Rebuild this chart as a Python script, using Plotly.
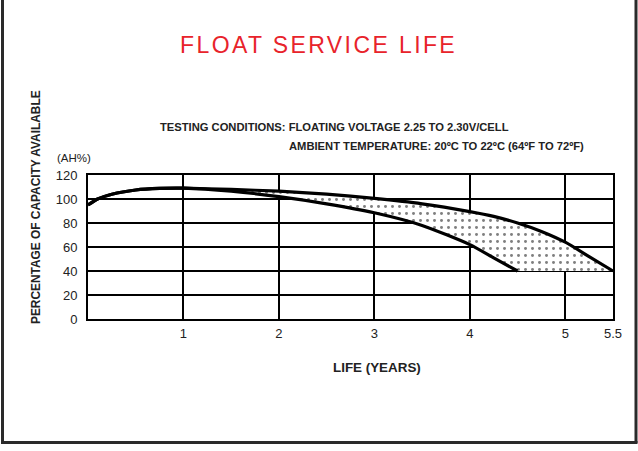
import plotly.graph_objects as go

# ---- data ----
years_upper = [0, 0.1, 0.25, 0.5, 0.75, 1.0, 1.5, 2.0, 2.5, 3.0, 3.5, 4.0, 4.25, 4.5, 4.75, 5.0, 5.25, 5.5]
cap_upper   = [95, 100, 104, 107.5, 108.8, 109, 108, 106.5, 104, 100.5, 96, 89.5, 85.5, 80, 73, 64, 52, 40]
years_lower = [0, 0.1, 0.25, 0.5, 0.75, 1.0, 1.5, 2.0, 2.5, 3.0, 3.5, 4.0, 4.25, 4.5]
cap_lower   = [95, 100, 104, 107.5, 108.8, 109, 106.5, 102, 96, 88.5, 78, 62, 51, 40]
floor_years = [4.5, 5.5]
floor_cap   = [40, 40]

x_ticks = [1, 2, 3, 4, 5, 5.5]
x_ticktext = ["1", "2", "3", "4", "5", "5.5"]
y_ticks = [0, 20, 40, 60, 80, 100, 120]
y_ticktext = ["0", "20", "40", "60", "80", "100", "120"]

W, H = 638, 451
L, R, T, B = 88, 613, 175, 319

FONT = "Liberation Sans, Arial, sans-serif"

fig = go.Figure()

band_x = years_upper + list(reversed(years_lower + floor_years[1:]))
band_y = cap_upper + list(reversed(cap_lower + floor_cap[1:]))
fig.add_trace(go.Scatter(
    x=band_x, y=band_y, mode="lines", fill="toself",
    line=dict(width=0, color="rgba(0,0,0,0)"),
    fillcolor="white",
    fillpattern=dict(shape=".", fgcolor="black", bgcolor="white", size=7, solidity=0.14),
    hoverinfo="skip", showlegend=False,
))
fig.add_trace(go.Scatter(x=years_upper, y=cap_upper, mode="lines",
                         line=dict(color="black", width=3.2, shape="spline", smoothing=0.6),
                         showlegend=False))
fig.add_trace(go.Scatter(x=years_lower, y=cap_lower, mode="lines",
                         line=dict(color="black", width=3.2, shape="spline", smoothing=0.6),
                         showlegend=False))

fig.update_xaxes(
    range=[0, 5.5], tickvals=x_ticks, ticktext=x_ticktext,
    showgrid=True, gridcolor="black", gridwidth=2,
    showline=True, linecolor="black", linewidth=2, mirror=True,
    zeroline=False, ticks="", ticklabelstandoff=1,
    tickfont=dict(family=FONT, size=13, color="#222"),
)
fig.update_yaxes(
    range=[0, 120], tickvals=y_ticks, ticktext=y_ticktext,
    showgrid=True, gridcolor="black", gridwidth=2,
    showline=True, linecolor="black", linewidth=2, mirror=True,
    zeroline=False, ticks="", ticklabelstandoff=6,
    tickfont=dict(family=FONT, size=13, color="#222"),
)

def px(xp):
    return (xp - L) / (R - L)

def py(yp):
    return (B - yp) / (B - T)

ann = []
ann.append(dict(text="<span style='letter-spacing:2.4px'>FLOAT SERVICE LIFE</span>",
                x=px(318), y=py(45), xref="paper", yref="paper", showarrow=False,
                font=dict(family=FONT, size=23, color="#e8232b"),
                xanchor="center", yanchor="middle"))
ann.append(dict(text="<b>TESTING CONDITIONS: FLOATING VOLTAGE 2.25 TO 2.30V/CELL</b>",
                x=px(158), y=py(127), xref="paper", yref="paper", showarrow=False,
                font=dict(family=FONT, size=11.2, color="#222"), xanchor="left", yanchor="middle"))
ann.append(dict(text="<b>AMBIENT TEMPERATURE: 20ºC TO 22ºC (64ºF TO 72ºF)</b>",
                x=px(287), y=py(146), xref="paper", yref="paper", showarrow=False,
                font=dict(family=FONT, size=11.2, color="#222"), xanchor="left", yanchor="middle"))
ann.append(dict(text="(AH%)",
                x=px(55), y=py(158), xref="paper", yref="paper", showarrow=False,
                font=dict(family=FONT, size=11.5, color="#222"), xanchor="left", yanchor="middle"))
ann.append(dict(text="<b>PERCENTAGE OF CAPACITY AVAILABLE</b>",
                x=px(36), y=py(207), xref="paper", yref="paper", showarrow=False, textangle=-90,
                font=dict(family=FONT, size=11.9, color="#222"), xanchor="center", yanchor="middle"))
ann.append(dict(text="<b>LIFE (YEARS)</b>",
                x=px(377), y=py(367), xref="paper", yref="paper", showarrow=False,
                font=dict(family=FONT, size=13.4, color="#222"), xanchor="center", yanchor="middle"))

shapes = [
    dict(type="line", xref="paper", yref="paper", x0=px(2.5), x1=px(2.5), y0=py(0), y1=py(443),
         line=dict(color="#2a2a2a", width=3)),
    dict(type="line", xref="paper", yref="paper", x0=px(636), x1=px(636), y0=py(0), y1=py(443),
         line=dict(color="#2a2a2a", width=3)),
    dict(type="line", xref="paper", yref="paper", x0=px(1), x1=px(637.5), y0=py(442.5), y1=py(442.5),
         line=dict(color="#2a2a2a", width=3)),
]

fig.update_layout(
    width=W, height=H, autosize=False,
    margin=dict(l=L, r=W - R, t=T, b=H - B, pad=0),
    paper_bgcolor="white", plot_bgcolor="white",
    annotations=ann, shapes=shapes, showlegend=False,
)

fig.write_html("out.html", config={"displayModeBar": False},
               post_script="document.body.style.margin='0';document.body.style.overflow='hidden';")
